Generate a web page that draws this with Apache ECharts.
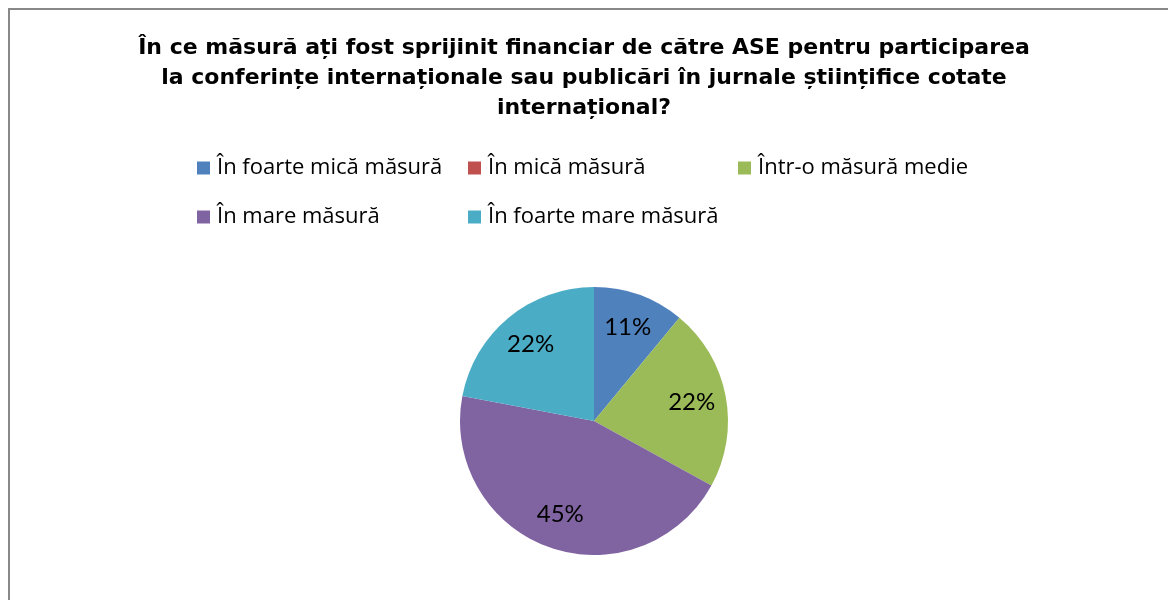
<!DOCTYPE html>
<html>
<head>
<meta charset="utf-8">
<script src="https://cdn.jsdelivr.net/npm/echarts@6/dist/echarts.min.js"></script>
<style>
  html, body { margin: 0; padding: 0; background: #fff; }
  #chart { width: 1168px; height: 600px; }
</style>
</head>
<body>
<div id="chart"></div>
<script>
var titleText = 'În ce măsură ați fost sprijinit financiar de către ASE pentru participarea\nla conferințe internaționale sau publicări în jurnale științifice cotate\ninternațional?';
var categories = ['În foarte mică măsură', 'În mică măsură', 'Într-o măsură medie', 'În mare măsură', 'În foarte mare măsură'];
var percents = [11, 0, 22, 45, 22];
var colors = ['#4F81BD', '#C0504D', '#9BBB59', '#8064A2', '#4BACC6'];

// legenda e asezata pe coloane, ca in Excel
var legendLeft = [197, 468, 738, 197, 468];
var legendTop = [157, 157, 157, 206, 206];

var pieData = categories.map(function (name, i) {
    return { name: name, value: percents[i] };
});

var legends = categories.map(function (name, i) {
    return {
        data: [name],
        left: legendLeft[i],
        top: legendTop[i],
        padding: 0,
        icon: 'rect', itemWidth: 13, itemHeight: 13,
        textStyle: { fontFamily: 'Open Sans', fontSize: 22, color: '#000', padding: [0, 0, 0, 2] }
    };
});

option = {
    color: colors,
    animation: false,
    title: {
        text: titleText,
        left: 'center',
        top: 28,
        textStyle: {
            fontFamily: 'DejaVu Sans',
            fontWeight: 'bold',
            fontSize: 22,
            lineHeight: 30,
            color: '#000'
        }
    },
    graphic: [{
        type: 'rect',           // chenarul graficului
        shape: { x: 9, y: 9, width: 1300, height: 700 },
        style: { fill: 'none', stroke: '#888', lineWidth: 2 },
        silent: true
    }],
    legend: legends,
    series: [{
        name: 'sectoare',
        type: 'pie',
        center: [594, 421],
        radius: [0, 134],
        startAngle: 90,
        label: { show: false },
        labelLine: { show: false },
        itemStyle: { borderWidth: 0 },
        emphasis: { disabled: true },
        data: pieData
    }, {
        // serie transparenta doar pentru etichete (pozitie ~0.72 din raza)
        name: 'etichete',
        type: 'pie',
        center: [594, 421],
        radius: [59, 134],
        startAngle: 90,
        silent: true,
        itemStyle: { color: 'rgba(0,0,0,0)', borderWidth: 0 },
        label: {
            show: true,
            position: 'inside',
            fontFamily: 'Lato',
            fontSize: 24,
            color: '#000',
            formatter: function (p) { return p.value > 0 ? p.value + '%' : ''; }
        },
        labelLine: { show: false },
        data: pieData
    }]
};
var myChart = echarts.init(document.getElementById('chart'));
myChart.setOption(option, true);
</script>
</body>
</html>
